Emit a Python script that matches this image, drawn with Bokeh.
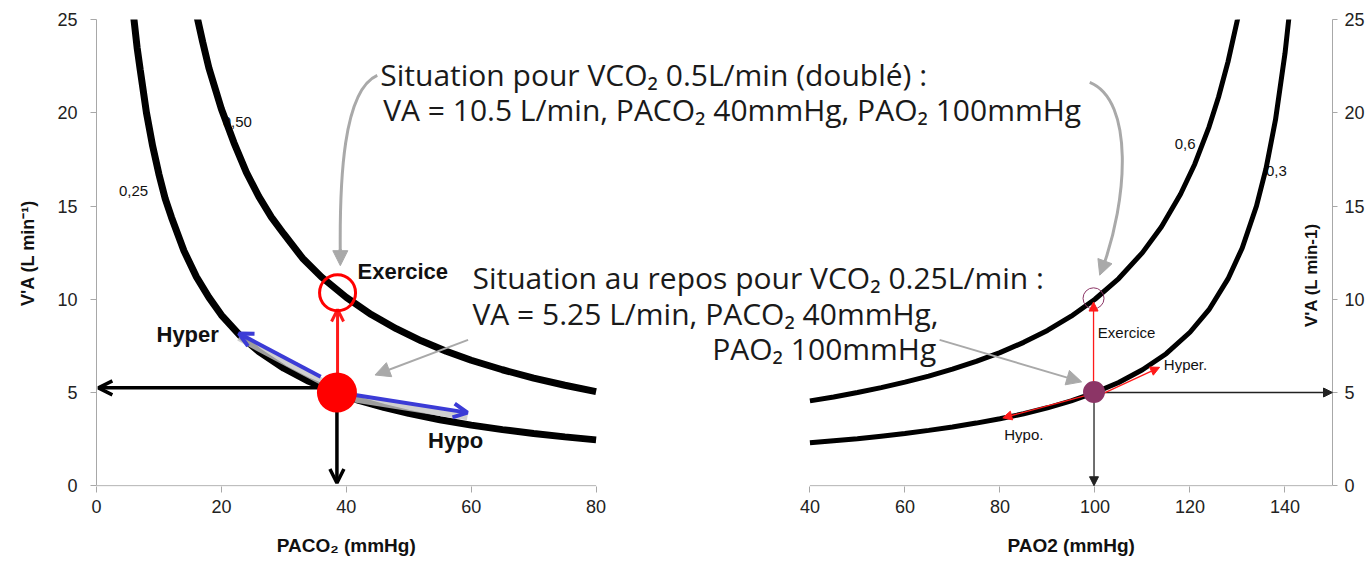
import math
from bokeh.plotting import figure
from bokeh.models import (Range1d, LinearAxis, FixedTicker, Arrow, OpenHead,
                          NormalHead, Label)
from bokeh.embed import file_html
from bokeh.resources import INLINE

# ---------------- data ----------------
# left panel : V'A vs PACO2 for VCO2 0,25 and 0,50 L/min
paco2_025 = [5.8, 6.5, 7, 8, 9, 10, 11, 12, 14, 16, 18, 20, 23, 26, 30, 34, 38,
             42, 46, 50, 55, 60, 65, 70, 75, 80]
va_025 = [25.6, 23.5, 22.3, 20.0, 18.2, 16.7, 15.4, 14.4, 12.6, 11.2, 10.1, 9.15,
          8.05, 7.19, 6.30, 5.60, 5.04, 4.58, 4.20, 3.88, 3.54, 3.25, 3.01, 2.80,
          2.62, 2.46]
paco2_050 = [16, 17, 18, 19, 20, 22, 24, 26, 28, 30, 33, 36, 40, 44, 48, 52, 56,
             60, 65, 70, 75, 80]
va_050 = [25.3, 23.8, 22.4, 21.3, 20.2, 18.4, 16.8, 15.5, 14.4, 13.5, 12.2, 11.2,
          10.1, 9.18, 8.42, 7.77, 7.21, 6.73, 6.22, 5.77, 5.39, 5.05]

# right panel : V'A vs PAO2 for 0,3 and 0,6
pao2_03 = [40, 45, 50, 55, 60, 65, 70, 75, 80, 85, 90, 95, 100, 105, 110, 115,
           120, 124, 128, 131, 134, 136, 138, 140, 141]
va_03 = [2.30, 2.41, 2.52, 2.66, 2.80, 2.97, 3.15, 3.36, 3.59, 3.86, 4.18, 4.55,
         5.00, 5.54, 6.22, 7.08, 8.23, 9.44, 11.09, 12.75, 15.0, 17.0, 19.62,
         23.18, 25.5]
pao2_06 = [40, 45, 50, 55, 60, 65, 70, 75, 80, 85, 90, 95, 100, 105, 110, 114,
           118, 121, 124, 126, 128, 130, 131]
va_06 = [4.55, 4.76, 5.00, 5.26, 5.56, 5.88, 6.25, 6.67, 7.14, 7.69, 8.33, 9.09,
         10.0, 11.11, 12.5, 13.89, 15.63, 17.24, 19.23, 20.83, 22.73, 25.0, 26.3]

# key points
rest_paco2, rest_va_left = 38.5, 5.0
exo_paco2, exo_va_left = 38.6, 10.35
rest_pao2, rest_va_right = 99.8, 5.03
exo_pao2, exo_va_right = 99.7, 10.05

# ticks
x_ticks_left = [0, 20, 40, 60, 80]
x_ticks_right = [40, 60, 80, 100, 120, 140]
y_ticks = [0, 5, 10, 15, 20, 25]
x_title_left, x_title_right = "PACO₂ (mmHg)", "PAO2 (mmHg)"

# arrows: (x_start, y_start, x_end, y_end)
arr_va_left = (37.0, 5.25, 0.3, 5.25)
arr_paco2_down = (38.5, 4.0, 38.5, 0.15)
arr_exo_left = (38.6, 5.6, 38.6, 9.45)
arr_hyper_left = (35.9, 5.84, 22.8, 8.17)
arr_hypo_left = (41.4, 4.87, 59.4, 3.92)
arr_exo_right = (99.7, 5.4, 99.7, 9.85)
arr_hyper_right = (100.3, 4.78, 113.6, 6.35)
arr_hypo_right = (99.0, 4.9, 80.6, 3.64)
arr_down_right = (99.8, 4.6, 99.8, 0.0)
arr_right_right = (100.3, 5.0, 150.0, 5.0)

FONT = "Liberation Sans"
TXT = "Open Sans"
AXIS_GREY = "#a8a8a8"

W, H = 1367, 561
BL, BR, BT, BB = 96, 34, 19, 75
frame_w = W - BL - BR
PX_LEFT = 6.25
left_end = frame_w / PX_LEFT
px_right = (1333.0 - 810.0) / 110.0
right_start = 150 - frame_w / px_right


def to_left(v):
    """position of a right-panel abscissa in the left-panel units"""
    return (v - right_start) * px_right / PX_LEFT


p = figure(width=W, height=H, x_range=Range1d(0, left_end),
           y_range=Range1d(-0.04, 25),
           output_backend="svg", toolbar_location=None, title=None,
           x_axis_type=None, y_axis_type=None,
           min_border_left=BL, min_border_right=BR, min_border_top=BT,
           min_border_bottom=BB)
p.extra_x_ranges = {"right": Range1d(right_start, 150)}
p.outline_line_color = None
p.background_fill_color = "white"
p.border_fill_color = "white"


def style_axis(ax):
    ax.axis_line_color = AXIS_GREY
    ax.major_tick_line_color = AXIS_GREY
    ax.minor_tick_line_color = None
    ax.major_tick_out = 6
    ax.major_tick_in = 0
    ax.major_label_text_font = FONT
    ax.major_label_text_font_size = "18px"
    ax.major_label_text_color = "#222222"
    ax.axis_label_text_font = FONT
    ax.axis_label_text_font_size = "18px"
    ax.axis_label_text_font_style = "bold"
    ax.axis_label_text_color = "#111111"


# one shared bottom axis carrying the ticks of both panels
tick_pos, tick_txt = [], {}
for v in x_ticks_left:
    tick_pos.append(float(v))
    tick_txt[float(v)] = str(v)
for v in x_ticks_right:
    pos = to_left(v)
    tick_pos.append(pos)
    tick_txt[pos] = str(v)

xb = LinearAxis(ticker=FixedTicker(ticks=tick_pos), major_label_overrides=tick_txt)
style_axis(xb)
xb.axis_line_color = None
xb.major_label_standoff = 7
p.add_layout(xb, "below")

# second bottom row carrying the two axis titles
t_left = 40.0
t_right = to_left(95.0)
xt = LinearAxis(ticker=FixedTicker(ticks=[t_left, t_right]),
                major_label_overrides={t_left: x_title_left, t_right: x_title_right})
xt.axis_line_color = None
xt.major_tick_line_color = None
xt.minor_tick_line_color = None
xt.major_tick_out = 0
xt.major_tick_in = 0
xt.major_label_standoff = 19
xt.major_label_text_font = FONT
xt.major_label_text_font_size = "19px"
xt.major_label_text_font_style = "bold"
xt.major_label_text_color = "#111111"
p.add_layout(xt, "below")

# axis lines of the two panels
p.add_layout(Arrow(start=None, end=None, x_start=0, y_start=0, x_end=80, y_end=0,
                   line_color=AXIS_GREY, line_width=1))
p.add_layout(Arrow(start=None, end=None, x_start=40, y_start=0, x_end=150, y_end=0,
                   line_color=AXIS_GREY, line_width=1, x_range_name="right"))

yl = LinearAxis(ticker=FixedTicker(ticks=y_ticks), bounds=(0, 25),
                axis_label="V'A (L min⁻¹)")
style_axis(yl)
yl.major_label_standoff = 13
yl.axis_label_standoff = 16
p.add_layout(yl, "left")

yr = LinearAxis(ticker=FixedTicker(ticks=y_ticks), bounds=(0, 25),
                x_range_name="right")
style_axis(yr)
yr.major_tick_out = 5
yr.major_label_standoff = 7
p.add_layout(yr, "right")

# curve labels (under the curves)
for (x, y, t, rn) in [(3.6, 15.8, "0,25", "default"), (20.2, 19.5, "0,50", "default"),
                      (116.8, 18.3, "0,6", "right"), (136.0, 16.9, "0,3", "right")]:
    p.add_layout(Label(x=x, y=y, text=t, x_range_name=rn, text_font=FONT,
                       text_font_size="15px", text_color="#111111",
                       text_baseline="middle", text_align="left", level="underlay"))

# curves
p.line(paco2_025, va_025, line_color="black", line_width=7)
p.line(paco2_050, va_050, line_color="black", line_width=7)
p.line(pao2_03, va_03, line_color="black", line_width=5, x_range_name="right")
p.line(pao2_06, va_06, line_color="black", line_width=5, x_range_name="right")


def arrow(c, color, width, head, size, rn="default", head_fill=None):
    if head == "open":
        h = OpenHead(size=size, line_color=color, line_width=width)
    else:
        h = NormalHead(size=size, line_color=color, fill_color=head_fill or color,
                       line_width=1)
    p.add_layout(Arrow(end=h, x_start=c[0], y_start=c[1], x_end=c[2], y_end=c[3],
                       line_color=color, line_width=width, x_range_name=rn))


# shadows under blue arrows
for c in (arr_hyper_left, arr_hypo_left):
    p.line([c[0], c[2]], [c[1] - 0.22, c[3] - 0.22], line_color="#c4c4c4",
           line_width=7, line_alpha=0.8)

# left arrows
arrow(arr_va_left, "black", 3.5, "open", 14)
arrow(arr_paco2_down, "black", 3.5, "open", 14)
arrow(arr_exo_left, "#ff1a1a", 3, "open", 12)
arrow(arr_hyper_left, "#3b3bd6", 4, "open", 14)
arrow(arr_hypo_left, "#3b3bd6", 4, "open", 14)

# right arrows
arrow(arr_down_right, "#222222", 1.3, "normal", 9, "right")
arrow(arr_right_right, "#222222", 1.3, "normal", 9, "right")
arrow(arr_exo_right, "#ff1a1a", 1.3, "normal", 9, "right")
arrow(arr_hyper_right, "#ff1a1a", 1.3, "normal", 9, "right")
arrow(arr_hypo_right, "#ff1a1a", 1.3, "normal", 9, "right")

# points
dot_l = p.scatter([rest_paco2], [rest_va_left], size=40, fill_color="#ff0000",
                  line_color=None)
dot_l.level = "overlay"
circ_l = p.scatter([exo_paco2], [exo_va_left], size=36, fill_color=None,
                   line_color="#ff0000", line_width=3)
circ_l.level = "overlay"
dot_r = p.scatter([rest_pao2], [rest_va_right], size=22, fill_color="#8c3566",
                  line_color=None, x_range_name="right")
dot_r.level = "overlay"
p.scatter([exo_pao2], [exo_va_right], size=21, fill_color=None,
          line_color="#8c3566", line_width=1, x_range_name="right")

# grey pointer arrows
GREY = "#a9a9a9"
p.bezier(x0=[44.96], y0=[22.0], x1=[39.04], y1=[12.3], cx0=[39.5], cy0=[21.2],
         cx1=[38.9], cy1=[16.4], line_color=GREY, line_width=3)
p.add_layout(Arrow(end=NormalHead(size=15, fill_color=GREY, line_color=GREY),
                   x_start=39.04, y_start=12.7, x_end=39.04, y_end=11.8,
                   line_color=GREY, line_width=3))
p.bezier(x0=[98.9], y0=[21.63], x1=[101.5], y1=[11.6], cx0=[108.3], cy0=[20.66],
         cx1=[106.9], cy1=[15.31], line_color=GREY, line_width=3,
         x_range_name="right")
p.add_layout(Arrow(end=NormalHead(size=15, fill_color=GREY, line_color=GREY),
                   x_start=101.7, y_start=11.77, x_end=101.0, y_end=11.29,
                   line_color=GREY, line_width=3, x_range_name="right"))
p.add_layout(Arrow(end=NormalHead(size=15, fill_color=GREY, line_color=GREY),
                   x_start=59.5, y_start=7.82, x_end=44.6, y_end=5.94,
                   line_color=GREY, line_width=2))
p.add_layout(Arrow(end=NormalHead(size=15, fill_color=GREY, line_color=GREY),
                   x_start=67.3, y_start=7.82, x_end=97.2, y_end=5.57,
                   line_color=GREY, line_width=2, x_range_name="right"))


def label(x, y, t, size, font=FONT, style="normal", align="left", rn="default",
          angle=0.0, color="#111111"):
    p.add_layout(Label(x=x, y=y, text=t, x_range_name=rn, text_font=font,
                       text_font_size=size, text_font_style=style,
                       text_align=align, text_baseline="middle", angle=angle,
                       text_color=color))


label(41.8, 11.5, "Exercice", "22px", style="bold")
label(14.6, 8.1, "Hyper", "22px", style="bold", align="center")
label(57.5, 2.45, "Hypo", "22px", style="bold", align="center")
label(100.6, 8.22, "Exercice", "15px", rn="right")
label(114.5, 6.48, "Hyper.", "15px", rn="right")
label(80.9, 2.75, "Hypo.", "15px", rn="right")
label(145.6, 11.3, "V'A (L min-1)", "17px", style="bold", align="center",
      rn="right", angle=math.pi / 2)

label(45.44, 22.05, "Situation pour VCO₂ 0.5L/min (doublé) :", "30px", font=TXT,
      color="#1a1a1a")
label(45.9, 20.15, "VA = 10.5 L/min, PACO₂ 40mmHg, PAO₂ 100mmHg", "30px", font=TXT,
      color="#1a1a1a")
label(60.2, 11.15, "Situation au repos pour VCO₂ 0.25L/min :", "30px", font=TXT,
      color="#1a1a1a")
label(60.2, 9.25, "VA = 5.25 L/min, PACO₂ 40mmHg,", "30px", font=TXT,
      color="#1a1a1a")
label(98.6, 7.38, "PAO₂ 100mmHg", "30px", font=TXT, color="#1a1a1a")

open("out.html", "w").write(file_html(p, INLINE))
